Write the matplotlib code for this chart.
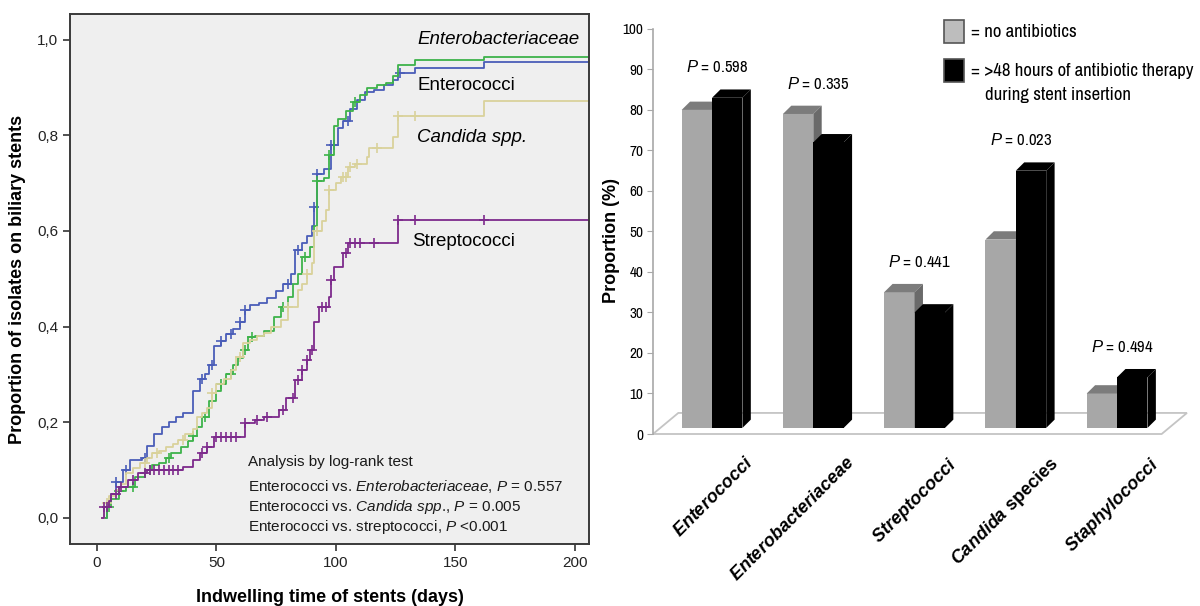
import numpy as np
import matplotlib
matplotlib.use("Agg")
import matplotlib.pyplot as plt
from matplotlib.patches import Polygon, Rectangle
from matplotlib import font_manager

# ---- left panel: cumulative proportion of isolates (step curves) ----
ent_t = [2, 4, 6, 8, 11, 14, 19, 21, 24, 27, 30, 33, 36, 40, 43, 45, 47, 49, 52, 54, 57, 60, 62, 64,
         68, 71, 75, 78, 81, 83, 86, 88, 90, 91, 92, 95, 98, 101, 103, 106, 109, 112, 116, 120, 124,
         126, 133, 162]
ent_y = [0.0, 0.03, 0.05, 0.075, 0.10, 0.12, 0.125, 0.15, 0.175, 0.19, 0.20, 0.21, 0.22, 0.265, 0.29,
         0.30, 0.32, 0.36, 0.37, 0.385, 0.395, 0.41, 0.435, 0.445, 0.45, 0.46, 0.475, 0.49, 0.51, 0.56,
         0.575, 0.59, 0.61, 0.65, 0.72, 0.73, 0.78, 0.815, 0.83, 0.855, 0.875, 0.89, 0.895, 0.905, 0.915,
         0.93, 0.941, 0.954]
ent_cens = [8, 12, 20, 44, 48, 52, 56, 60, 62, 80, 84, 91, 92, 98, 99, 105, 127]

ebc_t = [2, 4, 6, 9, 12, 16, 20, 23, 26, 29, 31, 35, 38, 40, 42, 44, 47, 50, 52, 54, 57, 59, 61, 63,
         66, 70, 74, 77, 80, 82, 84, 86, 89, 91, 92, 95, 97, 99, 101, 104, 107, 110, 113, 117, 121,
         124, 126, 133, 162]
ebc_y = [0.0, 0.022, 0.04, 0.055, 0.065, 0.085, 0.10, 0.11, 0.115, 0.125, 0.135, 0.148, 0.16, 0.17,
         0.19, 0.21, 0.245, 0.265, 0.28, 0.30, 0.32, 0.335, 0.35, 0.378, 0.38, 0.39, 0.42, 0.44, 0.462,
         0.49, 0.51, 0.545, 0.567, 0.61, 0.705, 0.71, 0.76, 0.82, 0.835, 0.85, 0.87, 0.885, 0.90, 0.905,
         0.91, 0.925, 0.948, 0.957, 0.965]
ebc_cens = [5, 9, 15, 22, 30, 40, 45, 52, 56, 62, 65, 78, 87, 92, 97, 108]

can_t = [2, 3, 5, 8, 10, 12, 15, 18, 21, 23, 26, 29, 32, 34, 37, 40, 42, 44, 46, 48, 50, 53, 56, 58,
         61, 64, 67, 70, 73, 77, 80, 84, 86, 88, 90, 91, 94, 96, 97, 100, 102, 105, 108, 113, 114,
         124, 126, 162]
can_y = [0.0, 0.03, 0.045, 0.058, 0.07, 0.093, 0.105, 0.114, 0.125, 0.135, 0.14, 0.148, 0.155, 0.162,
         0.175, 0.185, 0.21, 0.22, 0.23, 0.26, 0.28, 0.29, 0.31, 0.336, 0.365, 0.372, 0.38, 0.386, 0.40,
         0.413, 0.44, 0.476, 0.49, 0.51, 0.533, 0.60, 0.62, 0.644, 0.686, 0.70, 0.713, 0.734, 0.74,
         0.755, 0.773, 0.797, 0.84, 0.872]
can_cens = [4, 20, 25, 36, 48, 60, 80, 88, 92, 97, 103, 104, 106, 109, 117, 126, 133]

str_t = [2, 3, 5, 6, 9, 13, 17, 21, 36, 40, 43, 46, 49, 60, 62, 66, 70, 76, 79, 83, 86, 88, 89, 91,
         93, 95, 97, 98, 99, 103, 105, 126]
str_y = [0.0, 0.022, 0.035, 0.05, 0.064, 0.078, 0.093, 0.10, 0.106, 0.12, 0.135, 0.148, 0.169, 0.169,
         0.198, 0.205, 0.21, 0.225, 0.25, 0.288, 0.309, 0.33, 0.351, 0.41, 0.44, 0.44, 0.462, 0.497,
         0.525, 0.553, 0.575, 0.623]
str_cens = [3, 4, 8, 10, 15, 20, 22, 24, 26, 28, 30, 32, 34, 44, 46, 50, 52, 54, 56, 58, 62, 67, 71,
            78, 82, 84, 86, 88, 90, 94, 96, 98, 104, 106, 108, 110, 116, 126, 133, 162]

# ---- right panel: bar chart ----
species = ["Enterococci", "Enterobacteriaceae", "Streptococci", "Candida species", "Staphylococci"]
no_abx = [80, 79, 35, 48, 10]
abx48 = [83, 72, 30, 65, 14]
p_values = ["0.598", "0.335", "0.441", "0.023", "0.494"]

# look for a condensed face for the right-hand panel, else plain Liberation Sans
narrow, stretch = "Liberation Sans", "normal"
for f in font_manager.fontManager.ttflist:
    if "Narrow" in f.name or "Condensed" in f.name:
        narrow, stretch = f.name, "normal"
        break
    if f.stretch in ("condensed", "semi-condensed") and f.style == "normal":
        narrow, stretch = f.name, f.stretch
is_narrow = narrow != "Liberation Sans"

plt.rcParams["font.family"] = ["Liberation Sans", "DejaVu Sans"]
plt.rcParams["mathtext.fontset"] = "custom"
plt.rcParams["mathtext.rm"] = "Liberation Sans"
plt.rcParams["mathtext.it"] = "Liberation Sans:italic"
plt.rcParams["mathtext.bf"] = "Liberation Sans:bold"
plt.rcParams["mathtext.bfit"] = "Liberation Sans:italic:bold"

fig = plt.figure(figsize=(12, 6.06), dpi=100)
W, H = 1200, 606


def px_box(x0, y0, x1, y1):
    return [x0 / W, 1 - y1 / H, (x1 - x0) / W, (y1 - y0) / H]


ax1 = fig.add_axes(px_box(70, 14, 589, 544))
ax1.set_facecolor("#efefef")
x_end = 206
curves = [
    (ent_t, ent_y, ent_cens, "#4a5db8"),
    (ebc_t, ebc_y, ebc_cens, "#3db34a"),
    (can_t, can_y, can_cens, "#d9d29b"),
    (str_t, str_y, str_cens, "#7d2a8c"),
]
for t, y, cens, col in curves:
    t = np.array(t, dtype=float)
    y = np.array(y)
    ax1.step(np.append(t, x_end), np.append(y, y[-1]), where="post", color=col, lw=1.3)
    idx = np.searchsorted(t, cens, side="right") - 1
    ax1.plot(cens, y[idx], ls="none", marker="+", ms=7, mew=1.2, color=col)

ax1.set_xlim(-11.3, 205.9)
ax1.set_ylim(-0.055, 1.054)
ax1.set_xticks([0, 50, 100, 150, 200])
yt = [0, 0.2, 0.4, 0.6, 0.8, 1.0]
ax1.set_yticks(yt)
ax1.set_yticklabels([f"{v:.1f}".replace(".", ",") for v in yt])
ax1.tick_params(direction="out", length=5, width=1.2, colors="#333333", labelsize=11, labelcolor="#222222")
for s in ax1.spines.values():
    s.set_color("#3a3a3a")
    s.set_linewidth(1.4)
ax1.set_xlabel("Indwelling time of stents (days)", fontsize=13, fontweight="bold", labelpad=14)
ax1.set_ylabel("Proportion of isolates on biliary stents", fontsize=13, fontweight="bold", labelpad=8)

ax1.text(134, 1.0, "Enterobacteriaceae", fontsize=13.5, style="italic", va="center")
ax1.text(134, 0.905, "Enterococci", fontsize=13.5, va="center")
ax1.text(134, 0.795, "Candida spp.", fontsize=13.5, style="italic", va="center")
ax1.text(132, 0.578, "Streptococci", fontsize=13.5, va="center")
stats = [
    "Analysis by log-rank test",
    r"Enterococci vs. $\mathit{Enterobacteriaceae}$, $\mathit{P}$ = 0.557",
    r"Enterococci vs. $\mathit{Candida\ spp}$., $\mathit{P}$ = 0.005",
    r"Enterococci vs. streptococci, $\mathit{P}$ <0.001",
]
for k, line in enumerate(stats):
    yy = 0.117 - 0.042 * k - (0.01 if k else 0)
    ax1.text(63, yy, line, fontsize=11, va="center", color="#1a1a1a")

# ---- right panel ----
ax2 = fig.add_axes(px_box(653, 20, 1190, 440))
ax2.set_xlim(-0.583, 4.72)
ax2.set_ylim(-1.48, 102.2)
for side in ["top", "right", "bottom"]:
    ax2.spines[side].set_visible(False)
ax2.spines["left"].set_bounds(0, 100)
ax2.spines["left"].set_color("#a8a8a8")
ax2.spines["left"].set_linewidth(1.2)
ax2.set_xticks([])
ax2.set_yticks(range(0, 101, 10))
ax2.tick_params(axis="y", length=4, color="#a8a8a8", labelsize=11 if is_narrow else 10, pad=3)
for lab in ax2.get_yticklabels():
    lab.set_fontweight("bold")
    lab.set_family(narrow)
    lab.set_stretch(stretch)
ax2.set_ylabel("Proportion (%)", fontsize=13, fontweight="bold")
ax2.yaxis.set_label_coords(-0.062, 0.475)

# floor of the 3D chart
fdx, fdy = 0.25, 5.2
x_lo, x_hi = -0.583, 4.44
floor = Polygon([(x_lo, 0), (x_hi, 0), (x_hi + fdx, fdy), (x_lo + fdx, fdy)], closed=True,
                facecolor="white", edgecolor="#c4c4c4", lw=1.3, zorder=1)
ax2.add_patch(floor)

bw = 0.3
base = 1.5
ddx, ddy = 0.083, 2.05


def bar3d(x0, val, front, top, side):
    x1 = x0 + bw
    ax2.bar(x0, val - base, width=bw, bottom=base, align="edge", color=front, zorder=3)
    ax2.add_patch(Polygon([(x0, val), (x0 + ddx, val + ddy), (x1 + ddx, val + ddy), (x1, val)],
                          closed=True, facecolor=top, edgecolor="none", zorder=3))
    ax2.add_patch(Polygon([(x1, base), (x1, val), (x1 + ddx, val + ddy), (x1 + ddx, base + ddy)],
                          closed=True, facecolor=side, edgecolor="none", zorder=3))


p_size = 12 if is_narrow else 10
for i in range(len(species)):
    bar3d(i - bw, no_abx[i], "#a7a7a7", "#7c7c7c", "#6a6a6a")
    bar3d(i, abx48[i], "black", "black", "black")
    ax2.text(i + 0.05, max(no_abx[i], abx48[i]) + 7.5, r"$\mathit{P}$ = " + p_values[i],
             ha="center", va="center", fontsize=p_size, family=narrow, stretch=stretch)

cat_labels = [r"$\mathbfit{Enterococci}$", r"$\mathbfit{Enterobacteriaceae}$",
              r"$\mathbfit{Streptococci}$", r"$\mathbfit{Candida}$ species",
              r"$\mathbfit{Staphylococci}$"]
for i, lab in enumerate(cat_labels):
    ax2.text(i + 0.32, -5.0, lab, rotation=45, ha="right", va="top", rotation_mode="anchor",
             fontsize=13, fontweight="bold", clip_on=False)

# legend drawn as figure patches
leg_size = 13.5 if is_narrow else 11
fig.patches.append(Rectangle((944 / W, 1 - 43 / H), 20 / W, 23 / H, transform=fig.transFigure,
                             facecolor="#bdbdbd", edgecolor="#555555", lw=1.2))
fig.patches.append(Rectangle((944 / W, 1 - 82 / H), 20 / W, 23 / H, transform=fig.transFigure,
                             facecolor="black", edgecolor="#555555", lw=1.2))
fig.text(971 / W, 1 - 32 / H, "= no antibiotics", fontsize=leg_size, va="center",
         family=narrow, stretch=stretch)
fig.text(971 / W, 1 - 71 / H, "= >48 hours of antibiotic therapy", fontsize=leg_size, va="center",
         family=narrow, stretch=stretch)
fig.text(985 / W, 1 - 95 / H, "during stent insertion", fontsize=leg_size, va="center",
         family=narrow, stretch=stretch)

fig.savefig("out.png", dpi=100, facecolor="white")
